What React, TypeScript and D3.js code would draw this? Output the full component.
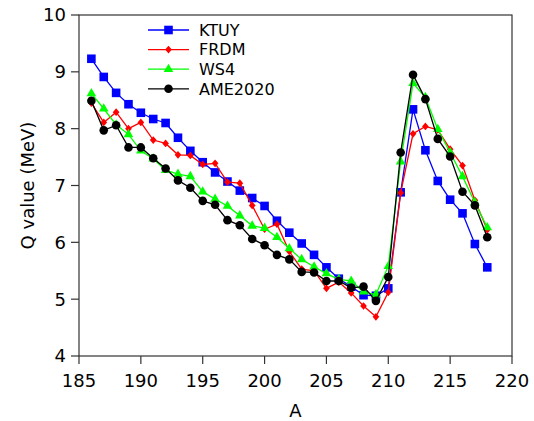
import React from "react";
import * as d3 from "d3";

const massNumbers = [186, 187, 188, 189, 190, 191, 192, 193, 194, 195, 196, 197, 198, 199, 200, 201, 202, 203, 204, 205, 206, 207, 208, 209, 210, 211, 212, 213, 214, 215, 216, 217, 218];

const ktuy = [9.23, 8.91, 8.63, 8.43, 8.28, 8.17, 8.10, 7.84, 7.61, 7.41, 7.23, 7.07, 6.91, 6.78, 6.64, 6.38, 6.17, 5.98, 5.78, 5.56, 5.36, 5.22, 5.07, 5.06, 5.19, 6.88, 8.34, 7.62, 7.08, 6.75, 6.51, 5.97, 5.56];
const frdm = [8.45, 8.11, 8.29, 8.00, 8.11, 7.80, 7.74, 7.54, 7.53, 7.37, 7.39, 7.06, 7.04, 6.65, 6.23, 6.32, 5.84, 5.53, 5.50, 5.19, 5.30, 5.11, 4.88, 4.69, 5.12, 6.87, 7.91, 8.04, 7.98, 7.64, 7.35, 6.74, 6.22];
const ws4 = [8.62, 8.35, 8.07, 7.90, 7.61, 7.47, 7.27, 7.20, 7.16, 6.89, 6.76, 6.64, 6.47, 6.29, 6.25, 6.09, 5.89, 5.70, 5.57, 5.45, 5.35, 5.32, 5.13, 5.08, 5.58, 7.42, 8.80, 8.55, 7.99, 7.58, 7.16, 6.70, 6.26];
const ame2020 = [8.49, 7.97, 8.06, 7.67, 7.67, 7.48, 7.30, 7.09, 6.96, 6.73, 6.66, 6.39, 6.30, 6.06, 5.95, 5.78, 5.70, 5.48, 5.47, 5.32, 5.32, 5.20, 5.22, 4.97, 5.39, 7.58, 8.95, 8.52, 7.82, 7.51, 6.89, 6.65, 6.09];

const xTicks = [185, 190, 195, 200, 205, 210, 215, 220];
const yTicks = [4, 5, 6, 7, 8, 9, 10];

const seriesNames = ["KTUY", "FRDM", "WS4", "AME2020"];

const W = 534;
const H = 421;
const margin = { left: 79, right: 22, top: 15, bottom: 65 };

// small, nearly square diamond like matplotlib's "D" marker at small size
const smallDiamond: d3.SymbolType = {
  draw(context, size) {
    const hw = Math.sqrt(size / 2) * 0.93;
    const hh = Math.sqrt(size / 2) * 1.07;
    context.moveTo(0, -hh);
    context.lineTo(hw, 0);
    context.lineTo(0, hh);
    context.lineTo(-hw, 0);
    context.closePath();
  },
};

export default function App() {
  const x = d3.scaleLinear().domain([185, 220]).range([margin.left, W - margin.right]);
  const y = d3.scaleLinear().domain([4, 10]).range([H - margin.bottom, margin.top]);

  const series = [
    { name: seriesNames[0], values: ktuy, color: "#0000ff", symbol: d3.symbolSquare, size: 74 },
    { name: seriesNames[1], values: frdm, color: "#ff0000", symbol: smallDiamond, size: 26 },
    { name: seriesNames[2], values: ws4, color: "#00ff00", symbol: d3.symbolTriangle, size: 40 },
    { name: seriesNames[3], values: ame2020, color: "#000000", symbol: d3.symbolCircle, size: 58 },
  ];

  const line = d3
    .line<number>()
    .x((_, i) => x(massNumbers[i]))
    .y((d) => y(d));

  const font = "'DejaVu Sans', sans-serif";
  const axisColor = "#333";
  const x0 = margin.left;
  const x1 = W - margin.right;
  const y0 = H - margin.bottom;
  const y1 = margin.top;

  return (
    <div style={{ position: "absolute", left: 0, top: 0 }}>
      <svg width={W} height={H} style={{ display: "block", background: "#fff" }}>
        {series.map((s) => (
          <g key={s.name}>
            <path d={line(s.values) || ""} fill="none" stroke={s.color} strokeWidth={1.3} />
            {s.values.map((v, i) => (
              <path
                key={i}
                d={d3.symbol().type(s.symbol).size(s.size)() || ""}
                transform={`translate(${x(massNumbers[i])},${y(v)})`}
                fill={s.color}
              />
            ))}
          </g>
        ))}

        {/* frame */}
        <rect x={x0} y={y1} width={x1 - x0} height={y0 - y1} fill="none" stroke={axisColor} strokeWidth={1.2} />

        {/* x ticks */}
        {xTicks.map((t) => (
          <g key={t}>
            <line x1={x(t)} x2={x(t)} y1={y0} y2={y0 + 8} stroke={axisColor} strokeWidth={1.2} />
            <text x={x(t)} y={y0 + 31} textAnchor="middle" fontFamily={font} fontSize={18} fill="#000">
              {t}
            </text>
          </g>
        ))}
        {/* y ticks */}
        {yTicks.map((t) => (
          <g key={t}>
            <line x1={x0 - 8} x2={x0} y1={y(t)} y2={y(t)} stroke={axisColor} strokeWidth={1.2} />
            <text x={x0 - 13} y={y(t)} dy="0.36em" textAnchor="end" fontFamily={font} fontSize={18} fill="#000">
              {t}
            </text>
          </g>
        ))}

        <text x={(x0 + x1) / 2} y={H - 4} textAnchor="middle" fontFamily={font} fontSize={18} fill="#000">
          A
        </text>
        <text
          transform={`translate(${28},${(y0 + y1) / 2}) rotate(-90)`}
          textAnchor="middle"
          dy="0.36em"
          fontFamily={font}
          fontSize={18}
          fill="#000"
        >
          Q value (MeV)
        </text>

        {/* legend */}
        {series.map((s, i) => {
          const ly = 30 + i * 19.6;
          return (
            <g key={s.name}>
              <line x1={148} x2={189} y1={ly} y2={ly} stroke={s.color} strokeWidth={1.3} />
              <path
                d={d3.symbol().type(s.symbol).size(s.size)() || ""}
                transform={`translate(${168.5},${ly})`}
                fill={s.color}
              />
              <text x={199} y={ly} dy="0.36em" fontFamily={font} fontSize={16} fill="#000">
                {s.name}
              </text>
            </g>
          );
        })}
      </svg>
    </div>
  );
}
